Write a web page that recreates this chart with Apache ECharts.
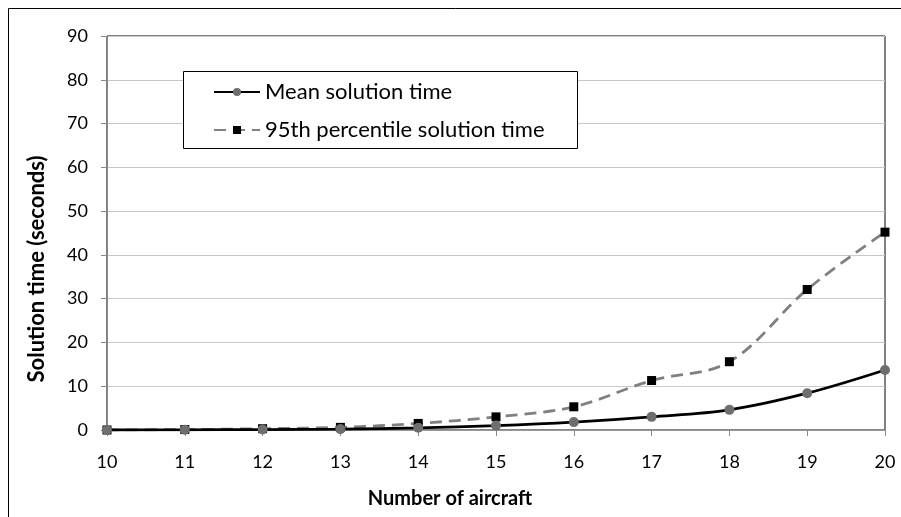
<!DOCTYPE html>
<html>
<head>
<meta charset="utf-8">
<script src="https://cdn.jsdelivr.net/npm/echarts@6/dist/echarts.min.js"></script>
<style>
  html, body { margin: 0; padding: 0; background: #fff; }
  #chart { width: 901px; height: 517px; }
</style>
</head>
<body>
<div id="chart"></div>
<script>
const aircraft = ["10", "11", "12", "13", "14", "15", "16", "17", "18", "19", "20"];
const meanTime = [0, 0.05, 0.1, 0.2, 0.5, 1.0, 1.8, 3.0, 4.6, 8.4, 13.7];
const p95Time = [0, 0.1, 0.3, 0.6, 1.5, 3.0, 5.3, 11.3, 15.6, 32.1, 45.2];
const yTicks = { min: 0, max: 90, step: 10 };

const FONT = "Lato, 'Open Sans', sans-serif";
const chart = echarts.init(document.getElementById("chart"));

chart.setOption({
  animation: false,
  textStyle: { fontFamily: FONT },
  grid: {
    left: 107, right: 16, top: 36, bottom: 87,
    show: true, borderColor: "#000", borderWidth: 1
  },
  graphic: [
    // outer chart frame (cropped on the right/bottom in the reference)
    { type: "rect", shape: { x: 8.5, y: 8.5, width: 920, height: 540 },
      style: { fill: null, stroke: "#000", lineWidth: 1 }, z: -10 },
    // legend box
    { type: "rect", shape: { x: 183.5, y: 71.5, width: 394, height: 77 },
      style: { fill: "#fff", stroke: "#000", lineWidth: 1 }, z: 50 },
    // axis titles
    { type: "text", x: 450, y: 499, z: 60,
      style: { text: "Number of aircraft", font: "bold 20px " + FONT,
               fill: "#000", textAlign: "center", textVerticalAlign: "middle" } },
    { type: "text", x: 37, y: 269, rotation: Math.PI / 2, z: 60,
      style: { text: "Solution time (seconds)", font: "bold 22px " + FONT,
               fill: "#000", textAlign: "center", textVerticalAlign: "middle" } }
  ],
  legend: {
    orient: "vertical",
    left: 208, top: 76,
    itemWidth: 46, itemHeight: 10, itemGap: 16,
    textStyle: { fontSize: 22, color: "#000", fontFamily: FONT },
    z: 60
  },
  xAxis: {
    type: "category",
    data: aircraft,
    boundaryGap: false,
    axisLine: { lineStyle: { color: "#888", width: 1.5 } },
    axisTick: { alignWithLabel: true, length: 6, lineStyle: { color: "#888" } },
    axisLabel: { fontSize: 18, color: "#000", margin: 23 },
    splitLine: { show: false }
  },
  yAxis: {
    type: "value",
    min: yTicks.min, max: yTicks.max, interval: yTicks.step,
    axisLine: { show: true, lineStyle: { color: "#888", width: 1 } },
    axisTick: { show: true, length: 6, lineStyle: { color: "#888" } },
    axisLabel: { fontSize: 18, color: "#000", margin: 19 },
    splitLine: { lineStyle: { color: "#c8c8c8", width: 1.2 } }
  },
  series: [
    {
      name: "Mean solution time",
      type: "line",
      data: meanTime,
      smooth: 0.35,
      symbol: "circle",
      symbolSize: 10,
      itemStyle: { color: "#6e6e6e" },
      lineStyle: { color: "#000", width: 2.8 },
      z: 3
    },
    {
      name: "95th percentile solution time",
      type: "line",
      data: p95Time,
      smooth: 0.35,
      symbol: "rect",
      symbolSize: 9,
      itemStyle: { color: "#000" },
      lineStyle: { color: "#808080", width: 2.8, type: [12, 7] },
      z: 2
    }
  ]
});
</script>
</body>
</html>
